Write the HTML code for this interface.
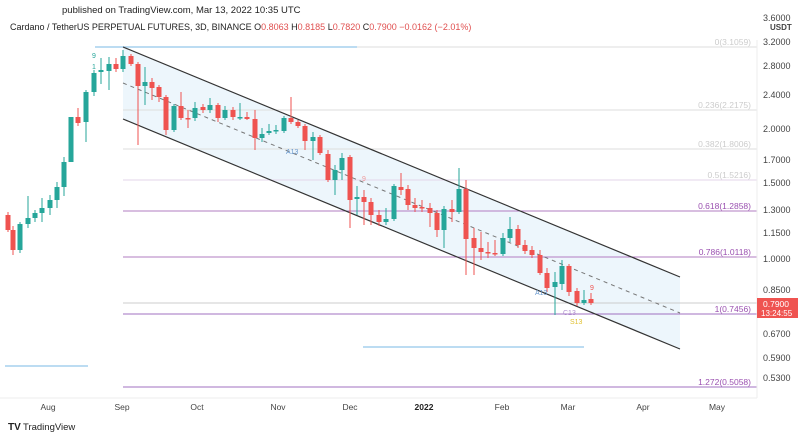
<!DOCTYPE html>
<html><head><meta charset="utf-8"><style>
body{margin:0;background:#fff;width:808px;height:440px;overflow:hidden;font-family:"Liberation Sans",sans-serif}
</style></head><body>
<svg width="808" height="440" xmlns="http://www.w3.org/2000/svg" font-family="Liberation Sans, sans-serif">
<rect width="808" height="440" fill="#fff"/>
<text x="62" y="13" font-size="9.5" fill="#222">published on TradingView.com, Mar 13, 2022 10:35 UTC</text>
<text x="10" y="30" font-size="9" fill="#222">Cardano / TetherUS PERPETUAL FUTURES, 3D, BINANCE  <tspan fill="#222">O</tspan><tspan fill="#e05050">0.8063</tspan>  <tspan fill="#222">H</tspan><tspan fill="#e05050">0.8185</tspan>  <tspan fill="#222">L</tspan><tspan fill="#e05050">0.7820</tspan>  <tspan fill="#222">C</tspan><tspan fill="#e05050">0.7900  −0.0162 (−2.01%)</tspan></text>
<!-- channel fill -->
<polygon points="123,47 680,277 680,349 123,119" fill="#e8f4fb" opacity="0.8"/>
<!-- fib lines -->
<g stroke-width="1">
<line x1="123" y1="47" x2="757" y2="47" stroke="#ddd"/>
<line x1="123" y1="110" x2="757" y2="110" stroke="#ddd"/>
<line x1="123" y1="149" x2="757" y2="149" stroke="#ddd"/>
<line x1="123" y1="180" x2="757" y2="180" stroke="#e3d5ea"/>
<line x1="123" y1="211" x2="757" y2="211" stroke="#b27cc2"/>
<line x1="123" y1="257" x2="757" y2="257" stroke="#b27cc2"/>
<line x1="123" y1="303" x2="757" y2="303" stroke="#ccc"/>
<line x1="123" y1="314" x2="757" y2="314" stroke="#a070c0"/>
<line x1="123" y1="387" x2="757" y2="387" stroke="#a070c0"/>
</g>
<line x1="95" y1="47" x2="357" y2="47" stroke="#bcdcf2" stroke-width="2"/>
<line x1="363" y1="347" x2="584" y2="347" stroke="#bcdcf2" stroke-width="2"/>
<line x1="5" y1="366" x2="88" y2="366" stroke="#bcdcf2" stroke-width="2"/>
<g font-size="8.5" text-anchor="end">
<text x="751" y="45" fill="#ccc">0(3.1059)</text>
<text x="751" y="108" fill="#ccc">0.236(2.2175)</text>
<text x="751" y="147" fill="#ccc">0.382(1.8006)</text>
<text x="751" y="178" fill="#ccc">0.5(1.5216)</text>
<text x="751" y="209" fill="#9a50b0">0.618(1.2858)</text>
<text x="751" y="255" fill="#9a50b0">0.786(1.0118)</text>
<text x="751" y="312" fill="#9a50b0">1(0.7456)</text>
<text x="751" y="385" fill="#9a50b0">1.272(0.5058)</text>
</g>
<!-- channel lines -->
<line x1="123" y1="47" x2="680" y2="277" stroke="#333" stroke-width="1.2"/>
<line x1="123" y1="119" x2="680" y2="349" stroke="#333" stroke-width="1.2"/>
<line x1="123" y1="83" x2="680" y2="313" stroke="#777" stroke-width="1" stroke-dasharray="4,4"/>
<!-- candles -->
<g id="c">
</g>
<g stroke-width="1">
<!-- format: x, top, bottom, wickTop, wickBot -->
<path d="" />
</g>
<g>
<line x1="8" y1="212" x2="8" y2="232" stroke="#ef5350"/><rect x="5.5" y="215" width="5" height="15" fill="#ef5350"/>
<line x1="13" y1="226" x2="13" y2="255" stroke="#ef5350"/><rect x="10.5" y="230" width="5" height="20" fill="#ef5350"/>
<line x1="20" y1="222" x2="20" y2="253" stroke="#26a69a"/><rect x="17.5" y="224" width="5" height="26" fill="#26a69a"/>
<line x1="28" y1="196" x2="28" y2="228" stroke="#26a69a"/><rect x="25.5" y="218" width="5" height="6" fill="#26a69a"/>
<line x1="35" y1="210" x2="35" y2="222" stroke="#26a69a"/><rect x="32.5" y="213" width="5" height="5" fill="#26a69a"/>
<line x1="42" y1="198" x2="42" y2="222" stroke="#26a69a"/><rect x="39.5" y="208" width="5" height="5" fill="#26a69a"/>
<line x1="50" y1="195" x2="50" y2="215" stroke="#26a69a"/><rect x="47.5" y="200" width="5" height="8" fill="#26a69a"/>
<line x1="57" y1="182" x2="57" y2="208" stroke="#26a69a"/><rect x="54.5" y="187" width="5" height="13" fill="#26a69a"/>
<line x1="64" y1="157" x2="64" y2="196" stroke="#26a69a"/><rect x="61.5" y="162" width="5" height="25" fill="#26a69a"/>
<line x1="71" y1="117" x2="71" y2="162" stroke="#26a69a"/><rect x="68.5" y="117" width="5" height="45" fill="#26a69a"/>
<line x1="78" y1="108" x2="78" y2="126" stroke="#ef5350"/><rect x="75.5" y="117" width="5" height="6" fill="#ef5350"/>
<line x1="86" y1="90" x2="86" y2="142" stroke="#26a69a"/><rect x="83.5" y="92" width="5" height="30" fill="#26a69a"/>
<line x1="94" y1="70" x2="94" y2="96" stroke="#26a69a"/><rect x="91.5" y="73" width="5" height="19" fill="#26a69a"/>
<line x1="101" y1="58" x2="101" y2="84" stroke="#26a69a"/><rect x="98.5" y="70" width="5" height="2" fill="#26a69a"/>
<line x1="109" y1="57" x2="109" y2="90" stroke="#26a69a"/><rect x="106.5" y="64" width="5" height="7" fill="#26a69a"/>
<line x1="116" y1="58" x2="116" y2="72" stroke="#ef5350"/><rect x="113.5" y="64" width="5" height="5" fill="#ef5350"/>
<line x1="123" y1="50" x2="123" y2="72" stroke="#26a69a"/><rect x="120.5" y="56" width="5" height="13" fill="#26a69a"/>
<line x1="131" y1="54" x2="131" y2="66" stroke="#ef5350"/><rect x="128.5" y="56" width="5" height="8" fill="#ef5350"/>
<line x1="138" y1="62" x2="138" y2="145" stroke="#ef5350"/><rect x="135.5" y="64" width="5" height="22" fill="#ef5350"/>
<line x1="145" y1="67" x2="145" y2="105" stroke="#26a69a"/><rect x="142.5" y="82" width="5" height="4" fill="#26a69a"/>
<line x1="152" y1="78" x2="152" y2="100" stroke="#ef5350"/><rect x="149.5" y="82" width="5" height="6" fill="#ef5350"/>
<line x1="159" y1="85" x2="159" y2="102" stroke="#ef5350"/><rect x="156.5" y="87" width="5" height="10" fill="#ef5350"/>
<line x1="166" y1="95" x2="166" y2="135" stroke="#ef5350"/><rect x="163.5" y="97" width="5" height="33" fill="#ef5350"/>
<line x1="174" y1="104" x2="174" y2="132" stroke="#26a69a"/><rect x="171.5" y="106" width="5" height="24" fill="#26a69a"/>
<line x1="181" y1="92" x2="181" y2="120" stroke="#ef5350"/><rect x="178.5" y="106" width="5" height="12" fill="#ef5350"/>
<line x1="188" y1="110" x2="188" y2="128" stroke="#ef5350"/><rect x="185.5" y="118" width="5" height="1.5" fill="#ef5350"/>
<line x1="195" y1="102" x2="195" y2="121" stroke="#26a69a"/><rect x="192.5" y="108" width="5" height="10" fill="#26a69a"/>
<line x1="203" y1="104" x2="203" y2="113" stroke="#ef5350"/><rect x="200.5" y="107" width="5" height="3" fill="#ef5350"/>
<line x1="210" y1="98" x2="210" y2="113" stroke="#26a69a"/><rect x="207.5" y="105" width="5" height="5" fill="#26a69a"/>
<line x1="218" y1="103" x2="218" y2="122" stroke="#ef5350"/><rect x="215.5" y="105" width="5" height="13" fill="#ef5350"/>
<line x1="225" y1="106" x2="225" y2="120" stroke="#26a69a"/><rect x="222.5" y="110" width="5" height="8" fill="#26a69a"/>
<line x1="233" y1="107" x2="233" y2="120" stroke="#ef5350"/><rect x="230.5" y="110" width="5" height="7" fill="#ef5350"/>
<line x1="240" y1="103" x2="240" y2="120" stroke="#26a69a"/><rect x="237.5" y="117" width="5" height="1.5" fill="#26a69a"/>
<line x1="247" y1="112" x2="247" y2="120" stroke="#ef5350"/><rect x="244.5" y="117" width="5" height="2" fill="#ef5350"/>
<line x1="255" y1="110" x2="255" y2="150" stroke="#ef5350"/><rect x="252.5" y="119" width="5" height="19" fill="#ef5350"/>
<line x1="262" y1="128" x2="262" y2="142" stroke="#26a69a"/><rect x="259.5" y="134" width="5" height="4" fill="#26a69a"/>
<line x1="269" y1="124" x2="269" y2="135" stroke="#26a69a"/><rect x="266.5" y="131" width="5" height="2" fill="#26a69a"/>
<line x1="276" y1="125" x2="276" y2="134" stroke="#26a69a"/><rect x="273.5" y="130" width="5" height="1.5" fill="#26a69a"/>
<line x1="284" y1="116" x2="284" y2="133" stroke="#26a69a"/><rect x="281.5" y="118" width="5" height="13" fill="#26a69a"/>
<line x1="291" y1="97" x2="291" y2="124" stroke="#ef5350"/><rect x="288.5" y="118" width="5" height="4" fill="#ef5350"/>
<line x1="298" y1="120" x2="298" y2="128" stroke="#ef5350"/><rect x="295.5" y="122" width="5" height="4" fill="#ef5350"/>
<line x1="305" y1="124" x2="305" y2="150" stroke="#ef5350"/><rect x="302.5" y="126" width="5" height="15" fill="#ef5350"/>
<line x1="313" y1="132" x2="313" y2="160" stroke="#26a69a"/><rect x="310.5" y="137" width="5" height="4" fill="#26a69a"/>
<line x1="320" y1="135" x2="320" y2="155" stroke="#ef5350"/><rect x="317.5" y="137" width="5" height="16" fill="#ef5350"/>
<line x1="328" y1="150" x2="328" y2="182" stroke="#ef5350"/><rect x="325.5" y="154" width="5" height="26" fill="#ef5350"/>
<line x1="335" y1="165" x2="335" y2="195" stroke="#26a69a"/><rect x="332.5" y="170" width="5" height="10" fill="#26a69a"/>
<line x1="342" y1="153" x2="342" y2="180" stroke="#26a69a"/><rect x="339.5" y="158" width="5" height="12" fill="#26a69a"/>
<line x1="350" y1="155" x2="350" y2="228" stroke="#ef5350"/><rect x="347.5" y="157" width="5" height="43" fill="#ef5350"/>
<line x1="357" y1="186" x2="357" y2="215" stroke="#26a69a"/><rect x="354.5" y="197" width="5" height="2" fill="#26a69a"/>
<line x1="364" y1="190" x2="364" y2="225" stroke="#ef5350"/><rect x="361.5" y="197" width="5" height="5" fill="#ef5350"/>
<line x1="371" y1="198" x2="371" y2="225" stroke="#ef5350"/><rect x="368.5" y="202" width="5" height="13" fill="#ef5350"/>
<line x1="379" y1="210" x2="379" y2="226" stroke="#ef5350"/><rect x="376.5" y="215" width="5" height="7" fill="#ef5350"/>
<line x1="386" y1="208" x2="386" y2="225" stroke="#26a69a"/><rect x="383.5" y="219" width="5" height="3" fill="#26a69a"/>
<line x1="394" y1="184" x2="394" y2="221" stroke="#26a69a"/><rect x="391.5" y="186" width="5" height="33" fill="#26a69a"/>
<line x1="401" y1="173" x2="401" y2="195" stroke="#ef5350"/><rect x="398.5" y="187" width="5" height="3" fill="#ef5350"/>
<line x1="408" y1="185" x2="408" y2="210" stroke="#ef5350"/><rect x="405.5" y="189" width="5" height="16" fill="#ef5350"/>
<line x1="415" y1="198" x2="415" y2="212" stroke="#ef5350"/><rect x="412.5" y="205" width="5" height="3" fill="#ef5350"/>
<line x1="422" y1="200" x2="422" y2="212" stroke="#ef5350"/><rect x="419.5" y="207" width="5" height="1.5" fill="#ef5350"/>
<line x1="430" y1="203" x2="430" y2="227" stroke="#ef5350"/><rect x="427.5" y="208" width="5" height="5" fill="#ef5350"/>
<line x1="437" y1="210" x2="437" y2="237" stroke="#ef5350"/><rect x="434.5" y="213" width="5" height="17" fill="#ef5350"/>
<line x1="444" y1="206" x2="444" y2="248" stroke="#26a69a"/><rect x="441.5" y="209" width="5" height="21" fill="#26a69a"/>
<line x1="452" y1="200" x2="452" y2="222" stroke="#ef5350"/><rect x="449.5" y="209" width="5" height="3" fill="#ef5350"/>
<line x1="459" y1="168" x2="459" y2="214" stroke="#26a69a"/><rect x="456.5" y="189" width="5" height="23" fill="#26a69a"/>
<line x1="466" y1="180" x2="466" y2="275" stroke="#ef5350"/><rect x="463.5" y="189" width="5" height="50" fill="#ef5350"/>
<line x1="474" y1="228" x2="474" y2="275" stroke="#ef5350"/><rect x="471.5" y="238" width="5" height="10" fill="#ef5350"/>
<line x1="481" y1="232" x2="481" y2="260" stroke="#ef5350"/><rect x="478.5" y="248" width="5" height="4" fill="#ef5350"/>
<line x1="488" y1="242" x2="488" y2="258" stroke="#ef5350"/><rect x="485.5" y="252" width="5" height="1.5" fill="#ef5350"/>
<line x1="495" y1="240" x2="495" y2="256" stroke="#ef5350"/><rect x="492.5" y="253" width="5" height="1.5" fill="#ef5350"/>
<line x1="503" y1="233" x2="503" y2="256" stroke="#26a69a"/><rect x="500.5" y="238" width="5" height="16" fill="#26a69a"/>
<line x1="510" y1="217" x2="510" y2="242" stroke="#26a69a"/><rect x="507.5" y="229" width="5" height="9" fill="#26a69a"/>
<line x1="518" y1="225" x2="518" y2="248" stroke="#ef5350"/><rect x="515.5" y="229" width="5" height="16" fill="#ef5350"/>
<line x1="525" y1="240" x2="525" y2="254" stroke="#ef5350"/><rect x="522.5" y="245" width="5" height="6" fill="#ef5350"/>
<line x1="532" y1="246" x2="532" y2="258" stroke="#ef5350"/><rect x="529.5" y="250" width="5" height="5" fill="#ef5350"/>
<line x1="540" y1="250" x2="540" y2="275" stroke="#ef5350"/><rect x="537.5" y="255" width="5" height="18" fill="#ef5350"/>
<line x1="547" y1="268" x2="547" y2="292" stroke="#ef5350"/><rect x="544.5" y="273" width="5" height="15" fill="#ef5350"/>
<line x1="555" y1="272" x2="555" y2="315" stroke="#26a69a"/><rect x="552.5" y="282" width="5" height="5" fill="#26a69a"/>
<line x1="562" y1="260" x2="562" y2="290" stroke="#26a69a"/><rect x="559.5" y="266" width="5" height="18" fill="#26a69a"/>
<line x1="569" y1="264" x2="569" y2="296" stroke="#ef5350"/><rect x="566.5" y="266" width="5" height="26" fill="#ef5350"/>
<line x1="577" y1="288" x2="577" y2="306" stroke="#ef5350"/><rect x="574.5" y="291" width="5" height="12" fill="#ef5350"/>
<line x1="584" y1="290" x2="584" y2="305" stroke="#26a69a"/><rect x="581.5" y="300" width="5" height="3" fill="#26a69a"/>
<line x1="591" y1="293" x2="591" y2="305" stroke="#ef5350"/><rect x="588.5" y="299" width="5" height="4" fill="#ef5350"/>
</g>
<g font-size="7">
<text x="92" y="58" fill="#26a69a">9</text>
<text x="92" y="69" fill="#26a69a">1</text>
<text x="286" y="154" fill="#6a9ad0">A13</text>
<text x="362" y="181" fill="#ef9a9a">9</text>
<text x="535" y="295" fill="#6a9ad0">A13</text>
<text x="563" y="315" fill="#b090d0">C13</text>
<text x="570" y="324" fill="#e0c030">S13</text>
<text x="590" y="290" fill="#ef5350">9</text>
</g>
<!-- price axis -->
<line x1="757" y1="40" x2="757" y2="398" stroke="#eee"/>
<g font-size="9" fill="#444">
<text x="763" y="21">3.6000</text>
<text x="770" y="30" font-size="8" font-weight="bold">USDT</text>
<text x="763" y="45">3.2000</text>
<text x="763" y="69">2.8000</text>
<text x="763" y="98">2.4000</text>
<text x="763" y="132">2.0000</text>
<text x="763" y="163">1.7000</text>
<text x="763" y="186">1.5000</text>
<text x="763" y="213">1.3000</text>
<text x="763" y="236">1.1500</text>
<text x="763" y="262">1.0000</text>
<text x="763" y="293">0.8500</text>
<text x="763" y="337">0.6700</text>
<text x="763" y="361">0.5900</text>
<text x="763" y="381">0.5300</text>
</g>
<rect x="757" y="298" width="41" height="20" fill="#ef5350"/>
<text x="763" y="307" font-size="8.5" fill="#fff">0.7900</text>
<text x="761" y="316" font-size="8" fill="#fff">13:24:55</text>
<!-- time axis -->
<line x1="0" y1="398" x2="757" y2="398" stroke="#eee"/>
<g font-size="8.5" fill="#444" text-anchor="middle">
<text x="48" y="410">Aug</text>
<text x="122" y="410">Sep</text>
<text x="197" y="410">Oct</text>
<text x="278" y="410">Nov</text>
<text x="350" y="410">Dec</text>
<text x="424" y="410" font-weight="bold" fill="#222">2022</text>
<text x="502" y="410">Feb</text>
<text x="568" y="410">Mar</text>
<text x="643" y="410">Apr</text>
<text x="717" y="410">May</text>
</g>
<text x="8" y="430" font-size="10" font-weight="bold" fill="#222">TV</text>
<text x="23" y="430" font-size="9.5" fill="#222">TradingView</text>
</svg>
</body></html>
